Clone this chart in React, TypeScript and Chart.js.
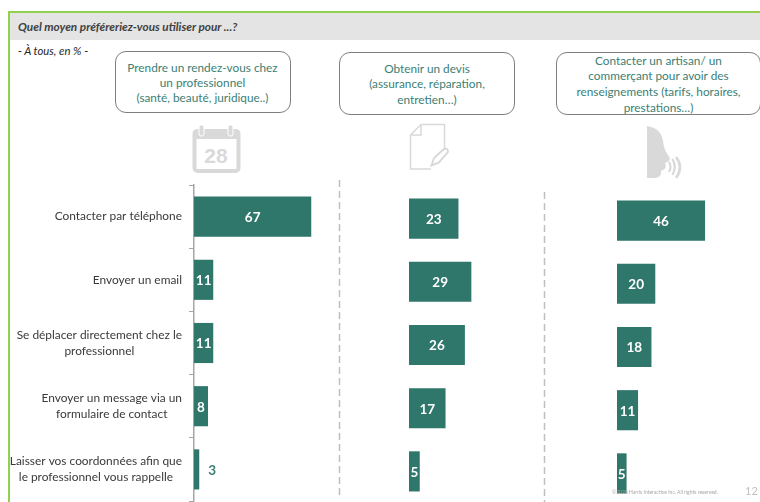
import React, { useEffect, useRef } from "react";
import { Chart, registerables } from "chart.js";

Chart.register(...registerables);

const categories: string[][] = [
  ["Contacter par téléphone"],
  ["Envoyer un email"],
  ["Se déplacer directement chez le", "professionnel"],
  ["Envoyer un message via un", "formulaire de contact"],
  ["Laisser vos coordonnées afin que", "le professionnel vous rappelle"],
];
const rendezVous = [67, 11, 11, 8, 3];
const devis = [23, 29, 26, 17, 5];
const renseignements = [46, 20, 18, 11, 5];

const title = "Quel moyen préféreriez-vous utiliser pour ...?";
const subtitle = "- À tous, en % -";
const bubble1 = ["Prendre un rendez-vous chez", "un professionnel", "(santé, beauté, juridique..)"];
const bubble2 = ["Obtenir un devis", "(assurance, réparation,", "entretien…)"];
const bubble3 = ["Contacter un artisan/ un", "commerçant pour avoir des", "renseignements (tarifs, horaires,", "prestations…)"];
const footer = "©2020 Harris Interactive Inc. All rights reserved.";
const pageNumber = "12";

const FONT = "Lato, Carlito, sans-serif";
const TEAL = "#2f766b";
const PAD = 3;

const valueLabels = {
  id: "valueLabels",
  afterDatasetsDraw(chart: any) {
    const { ctx } = chart;
    const meta = chart.getDatasetMeta(0);
    ctx.save();
    ctx.font = `bold 13.5px ${FONT}`;
    ctx.textAlign = "center";
    ctx.textBaseline = "middle";
    meta.data.forEach((bar: any, i: number) => {
      const v = chart.data.datasets[0].data[i];
      const outside = v < 5;
      const base = bar.base;
      ctx.fillStyle = outside ? "#3b8074" : "#ffffff";
      ctx.fillText(String(v), outside ? bar.x + 13 : (base + bar.x) / 2, bar.y + 1);
    });
    ctx.restore();
  },
};

const categoryLabels = {
  id: "categoryLabels",
  afterDraw(chart: any) {
    const scale = chart.scales.y;
    if (!scale.options.display) return;
    const { ctx } = chart;
    ctx.save();
    ctx.font = `11.9px ${FONT}`;
    ctx.fillStyle = "#3a3a3a";
    ctx.textAlign = "center";
    ctx.textBaseline = "middle";
    const right = 182;
    (chart.data.labels as string[][]).forEach((lines, i) => {
      const widest = Math.max(...lines.map((l) => ctx.measureText(l).width));
      const cx = right - widest / 2;
      const cy = scale.getPixelForValue(i);
      lines.forEach((l, k) => {
        ctx.fillText(l, cx, cy + (k - (lines.length - 1) / 2) * 15.5);
      });
    });
    ctx.restore();
  },
};

function Panel(props: {
  values: number[];
  left: number;
  top: number;
  width: number;
  height: number;
  axisWidth: number;
  max: number;
  showAxis: boolean;
}) {
  const ref = useRef<HTMLCanvasElement>(null);
  useEffect(() => {
    const chart = new Chart(ref.current as HTMLCanvasElement, {
      type: "bar",
      data: {
        labels: categories as any,
        datasets: [
          {
            data: props.values,
            backgroundColor: TEAL,
            borderWidth: 0,
            barPercentage: 0.635,
            categoryPercentage: 1,
          },
        ],
      },
      options: {
        indexAxis: "y",
        animation: false,
        responsive: false,
        layout: { padding: { top: PAD, bottom: PAD, left: 0, right: 0 } },
        plugins: { legend: { display: false }, tooltip: { enabled: false } },
        scales: {
          x: { display: false, min: 0, max: props.max },
          y: {
            display: props.showAxis,
            afterFit: (s: any) => {
              s.width = props.axisWidth;
            },
            ticks: { display: false },
            grid: {
              drawOnChartArea: false,
              drawTicks: true,
              tickLength: 5,
              color: "#a6a6a6",
              lineWidth: 1,
            },
            border: { color: "#a6a6a6", width: 1.5 },
          },
        },
      },
      plugins: [valueLabels, categoryLabels],
    } as any);
    return () => chart.destroy();
  }, []);
  return (
    <canvas
      ref={ref}
      width={props.width}
      height={props.height}
      style={{ position: "absolute", left: props.left, top: props.top, width: props.width, height: props.height }}
    />
  );
}

function Bubble(props: { lines: string[]; left: number; top: number; width: number; height: number; lh: number; shift: number }) {
  return (
    <div
      style={{
        position: "absolute",
        left: props.left,
        top: props.top,
        width: props.width,
        height: props.height,
        boxSizing: "border-box",
        border: "1px solid #7f7f7f",
        borderRadius: 11,
        background: "#fff",
        display: "flex",
        flexDirection: "column",
        justifyContent: "center",
        alignItems: "center",
        paddingTop: props.shift,
        color: "#3b8074",
        font: `11.8px ${FONT}`,
        lineHeight: `${props.lh}px`,
        whiteSpace: "nowrap",
      }}
    >
      {props.lines.map((l) => (
        <div key={l}>{l}</div>
      ))}
    </div>
  );
}

const ICON = "#d9d9d9";

function Icons() {
  return (
    <svg style={{ position: "absolute", left: 0, top: 0 }} width={760} height={502}>
      {/* calendar */}
      <rect x={194.5} y={131} width={44} height={40} rx={3} fill="none" stroke={ICON} strokeWidth={4} />
      <rect x={193} y={130} width={47} height={9} rx={3} fill={ICON} />
      <rect x={199} y={125} width={5} height={11} rx={2} fill={ICON} stroke="#fff" strokeWidth={1} />
      <rect x={228} y={125} width={5} height={11} rx={2} fill={ICON} stroke="#fff" strokeWidth={1} />
      <text x={216} y={162.5} textAnchor="middle" fill={ICON} style={{ font: "bold 21px 'Liberation Sans', sans-serif" }}>
        28
      </text>
      {/* document */}
      <path
        d="M431 169 H410.5 V135 L421 124.5 H444.5 V150 M410.5 135 H421 V124.5"
        fill="none"
        stroke={ICON}
        strokeWidth={1.5}
      />
      <path d="M431.5 165.5 L434 158 L444 149 Q448 148 448 152 L439 162.5 Z" fill="none" stroke={ICON} strokeWidth={2} />
      {/* face */}
      <path
        d="M647 126 Q661 128 663 141 Q664 150 668 155 Q671 159 669 161 L665 163 Q668 168 661 171 Q662 178 654 178 L647 178 Z"
        fill={ICON}
      />
      <path d="M669 162 Q672 167 669 172" fill="none" stroke={ICON} strokeWidth={2.2} />
      <path d="M672.5 159 Q677 167 672.5 175" fill="none" stroke={ICON} strokeWidth={2.2} />
      <path d="M676 157 Q684 167 676 178" fill="none" stroke={ICON} strokeWidth={2.6} />
      {/* dashed separators */}
      <line x1={339.5} y1={180} x2={339.5} y2={497} stroke="#bfbfbf" strokeWidth={1.5} strokeDasharray="7 4" />
      <line x1={544.5} y1={192} x2={544.5} y2={502} stroke="#bfbfbf" strokeWidth={1.5} strokeDasharray="7 4" />
    </svg>
  );
}

export default function App() {
  return (
    <div style={{ position: "fixed", left: 0, top: 0, width: 760, height: 502, overflow: "hidden", background: "#fff" }}>
      <div style={{ position: "absolute", left: 10, top: 13, width: 750, height: 27, background: "#e4e4e4" }} />
      <div style={{ position: "absolute", left: 7.5, top: 11, width: 752.5, height: 2, background: "#92d050" }} />
      <div style={{ position: "absolute", left: 7.5, top: 11, width: 2.5, height: 491, background: "#92d050" }} />
      <div style={{ position: "absolute", left: 18, top: 19, font: `italic bold 11.75px ${FONT}`, color: "#404040", whiteSpace: "nowrap" }}>
        {title}
      </div>
      <div style={{ position: "absolute", left: 18, top: 44, font: `italic 11.3px ${FONT}`, color: "#262626", whiteSpace: "nowrap" }}>
        {subtitle}
      </div>
      <Bubble lines={bubble1} left={114.5} top={50.5} width={176} height={62.5} lh={15.2} shift={2} />
      <Bubble lines={bubble2} left={339} top={52} width={176} height={63} lh={15.2} shift={1} />
      <Bubble lines={bubble3} left={556} top={52} width={205} height={63} lh={15.6} shift={1} />
      <Icons />
      <Panel values={rendezVous} showAxis left={0} top={185 - PAD} width={334} height={316 + 2 * PAD} axisWidth={194} max={80} />
      <Panel values={devis} showAxis={false} left={409} top={186.5 - PAD} width={129} height={316 + 2 * PAD} axisWidth={0} max={60} />
      <Panel values={renseignements} showAxis={false} left={617} top={188.5 - PAD} width={134} height={316 + 2 * PAD} axisWidth={0} max={70} />
      <div style={{ position: "absolute", left: 612, top: 489, font: `5px ${FONT}`, color: "#a6a6a6", whiteSpace: "nowrap" }}>{footer}</div>
      <div style={{ position: "absolute", left: 745, top: 484, font: `11px ${FONT}`, color: "#bfbfbf" }}>{pageNumber}</div>
    </div>
  );
}
